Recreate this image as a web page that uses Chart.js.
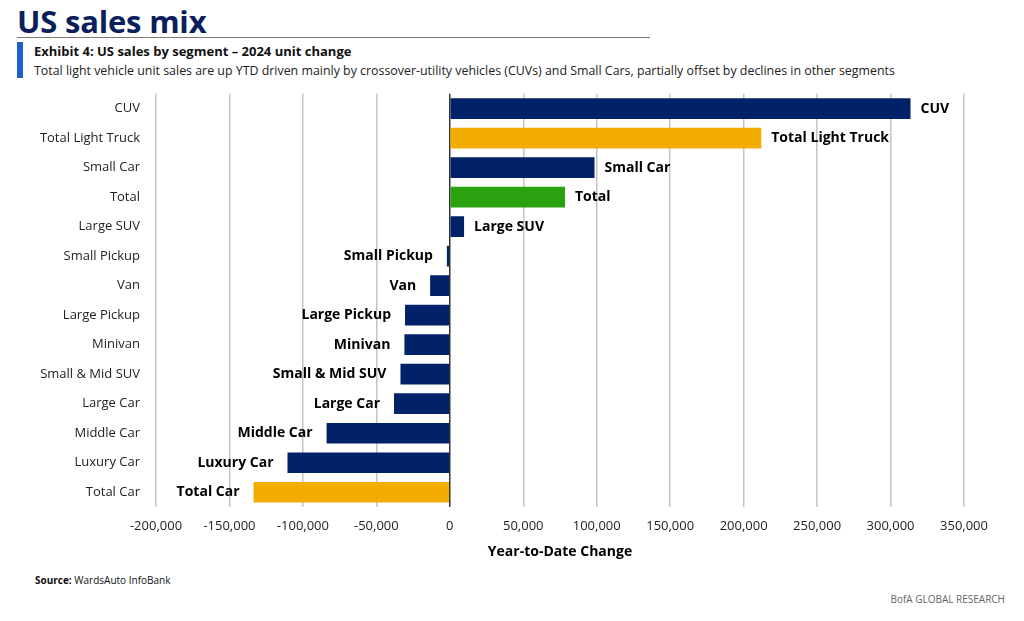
<!DOCTYPE html>
<html>
<head>
<meta charset="utf-8">
<script src="https://cdn.jsdelivr.net/npm/chart.js@4"></script>
<style>
  body { margin: 0; width: 1024px; height: 621px; background: #fff; position: relative; overflow: hidden; font-family: "Open Sans", sans-serif; }
  #title { position: absolute; left: 17px; top: 0px; font-size: 31px; font-weight: bold; color: #0b1f5c; letter-spacing: -0.2px; }
  #rule { position: absolute; left: 17px; top: 37px; width: 633px; height: 0; border-top: 1.5px solid #7a7a7a; }
  #bluebar { position: absolute; left: 17px; top: 42px; width: 6px; height: 36px; background: #1f5fd0; }
  #exhibit { position: absolute; left: 34px; top: 42px; font-size: 13px; font-weight: bold; color: #111; }
  #subtitle { position: absolute; left: 34px; top: 62px; font-size: 12.4px; color: #222; }
  #container { position: absolute; left: 0; top: 70px; width: 1024px; height: 496px; }
  #source { position: absolute; left: 35px; top: 573px; font-size: 10px; color: #111; }
  #brand { position: absolute; right: 19px; top: 592px; font-size: 10px; color: #666; }
</style>
</head>
<body>
<div id="title">US sales mix</div>
<div id="rule"></div>
<div id="bluebar"></div>
<div id="exhibit">Exhibit 4: US sales by segment – 2024 unit change</div>
<div id="subtitle">Total light vehicle unit sales are up YTD driven mainly by crossover-utility vehicles (CUVs) and Small Cars, partially offset by declines in other segments</div>
<div id="container"><canvas id="canvas"></canvas></div>
<div id="source"><b>Source:</b> WardsAuto InfoBank</div>
<div id="brand">BofA GLOBAL RESEARCH</div>

<script>
var segments = ['CUV', 'Total Light Truck', 'Small Car', 'Total', 'Large SUV', 'Small Pickup', 'Van',
  'Large Pickup', 'Minivan', 'Small & Mid SUV', 'Large Car', 'Middle Car', 'Luxury Car', 'Total Car'];
var unitChange = [313600, 212000, 98500, 78400, 9700, -2000, -13400,
  -30500, -30900, -33600, -38000, -83900, -110500, -133600];
var barColors = ['#012169', '#f2ad00', '#012169', '#2aa10f', '#012169', '#012169', '#012169',
  '#012169', '#012169', '#012169', '#012169', '#012169', '#012169', '#f2ad00'];

var xMin = -200000, xMax = 350000, xStep = 50000;

// labels at the end of each bar
var barLabels = {
  id: 'barLabels',
  afterDatasetsDraw: function(chart) {
    var ctx = chart.ctx;
    var meta = chart.getDatasetMeta(0);
    ctx.save();
    ctx.font = 'bold 14px "Open Sans", sans-serif';
    ctx.fillStyle = '#000';
    ctx.textBaseline = 'middle';
    meta.data.forEach(function(bar, i) {
      var v = unitChange[i];
      if (v >= 0) {
        ctx.textAlign = 'left';
        ctx.fillText(segments[i], bar.x + 10, bar.y);
      } else {
        ctx.textAlign = 'right';
        ctx.fillText(segments[i], bar.x - 14, bar.y);
      }
    });
    ctx.restore();
  }
};

new Chart(document.getElementById('canvas'), {
  type: 'bar',
  data: {
    labels: segments,
    datasets: [{
      data: unitChange,
      backgroundColor: barColors,
      borderWidth: 0,
      barPercentage: 0.7,
      categoryPercentage: 1
    }]
  },
  options: {
    indexAxis: 'y',
    responsive: true,
    maintainAspectRatio: false,
    animation: false,
    layout: { padding: { top: 6, right: 60, bottom: 0, left: 0 } },
    plugins: { legend: { display: false }, tooltip: { enabled: false } },
    scales: {
      x: {
        min: xMin, max: xMax,
        ticks: {
          stepSize: xStep,
          color: '#222',
          font: { family: '"Open Sans", sans-serif', size: 13 },
          padding: 11,
          callback: function(v) { return v.toLocaleString('en-US'); }
        },
        grid: {
          color: function(c) { return c.tick && c.tick.value === 0 ? '#333' : '#c4c4c4'; },
          lineWidth: 1.5,
          tickLength: 0,
          drawTicks: false
        },
        border: { display: false },
        title: {
          display: true,
          text: 'Year-to-Date Change',
          color: '#000',
          font: { family: '"Open Sans", sans-serif', size: 14, weight: 'bold' },
          padding: { top: 4, bottom: 6 }
        },
        afterFit: function(scale) { scale.height = 59; }
      },
      y: {
        ticks: {
          color: '#222',
          font: { family: '"Open Sans", sans-serif', size: 13 },
          padding: 16
        },
        grid: { display: false, drawTicks: false },
        border: { display: false },
        afterFit: function(scale) { scale.width = 156; }
      }
    }
  },
  plugins: [barLabels]
});
</script>
</body>
</html>
